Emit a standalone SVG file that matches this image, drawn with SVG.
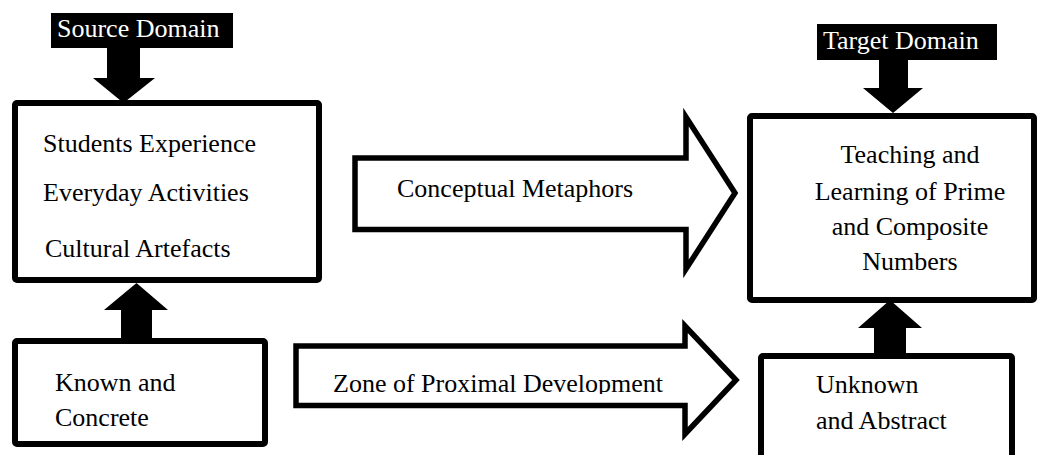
<svg xmlns="http://www.w3.org/2000/svg" width="1040" height="455" viewBox="0 0 1040 455">
<style>
  text { font-family: "Liberation Serif", "Times New Roman", serif; font-size: 26px; fill: #000; }
  .box { fill: #fff; stroke: #000; stroke-width: 6; stroke-linejoin: round; }
  .hollow { fill: #fff; stroke: #000; stroke-width: 5.5; stroke-linejoin: miter; }
  .solid { fill: #000; stroke: none; }
  .tag { fill: #000; }
  .tagtext { fill: #fff; }
  .c { text-anchor: middle; }
</style>
<defs>
  <clipPath id="zpdClip"><rect x="296" y="340" width="400" height="54"/></clipPath>
</defs>
<rect width="1040" height="455" fill="#fff"/>

<g id="connectors">
  <!-- Source Domain down arrow -->
  <polygon class="solid" points="107,48 140,48 140,78 155,78 123.5,103 93,78 107,78"/>
  <!-- Known and Concrete up arrow -->
  <polygon class="solid" points="121,341 152,341 152,310 168,310 136.5,283 104,310 121,310"/>
  <!-- Target Domain down arrow -->
  <polygon class="solid" points="879,60 908,60 908,88 923,88 893,113 863,88 879,88"/>
  <!-- Unknown and Abstract up arrow -->
  <polygon class="solid" points="874,356 906,356 906,328 922,328 890,300 858,328 874,328"/>
  <!-- Conceptual Metaphors hollow arrow -->
  <g id="edge-conceptual">
    <polygon class="hollow" points="355,158 686,158 686,117 735,193 686,269 686,229.5 355,229.5"/>
    <text x="397" y="197">Conceptual Metaphors</text>
  </g>
  <!-- Zone of Proximal Development hollow arrow -->
  <g id="edge-zpd">
    <polygon class="hollow" points="296,346 685,346 685,326 736,380 685,434 685,405.5 296,405.5"/>
    <text x="333" y="392" clip-path="url(#zpdClip)">Zone of Proximal Development</text>
  </g>
</g>

<g id="source-domain">
  <rect class="tag" x="51" y="13" width="182" height="35"/>
  <text class="tagtext" x="57" y="37">Source Domain</text>
</g>

<g id="target-domain">
  <rect class="tag" x="817" y="24" width="180" height="36"/>
  <text class="tagtext" x="823" y="49">Target Domain</text>
</g>

<g id="source-box">
  <rect class="box" x="15" y="103" width="304" height="177" rx="2"/>
  <text x="43" y="152">Students Experience</text>
  <text x="43" y="201">Everyday Activities</text>
  <text x="45" y="257">Cultural Artefacts</text>
</g>

<g id="known-box">
  <rect class="box" x="15" y="341" width="250" height="103" rx="2"/>
  <text x="55" y="391">Known and</text>
  <text x="55" y="426">Concrete</text>
</g>

<g id="target-box">
  <rect class="box" x="750" y="116" width="284" height="184" rx="2"/>
  <text class="c" x="910" y="163">Teaching and</text>
  <text class="c" x="910" y="200">Learning of Prime</text>
  <text class="c" x="910" y="235">and Composite</text>
  <text class="c" x="910" y="270">Numbers</text>
</g>

<g id="unknown-box">
  <rect class="box" x="761" y="356" width="251" height="120" rx="2"/>
  <text x="816" y="393">Unknown</text>
  <text x="816" y="429">and Abstract</text>
</g>
</svg>
